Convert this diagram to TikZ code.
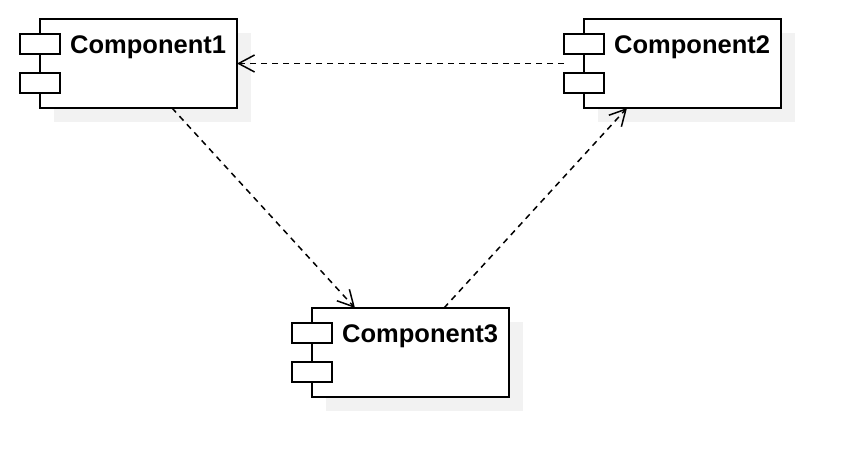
\documentclass[tikz,border=0pt]{standalone}
\usepackage{fontspec}
\newfontfamily\compfont{Liberation Sans}
\usetikzlibrary{arrows.meta}
\tikzset{
  compbox/.style={draw=black, line width=1.6pt, fill=white, minimum width=197pt, minimum height=89pt, inner sep=0pt, outer sep=0pt},
  compshadow/.style={fill=black!5, draw=none},
  portbox/.style={draw=black, line width=1.6pt, fill=white, minimum width=40pt, minimum height=20pt, inner sep=0pt, outer sep=0pt},
  complabel/.style={anchor=base west, inner sep=0pt, font=\compfont\bfseries\fontsize{25.5}{30}\selectfont},
  dep/.style={draw=black, line width=1.5pt, dash pattern=on 6pt off 5pt, -{Straight Barb[length=16pt,width=17pt,line width=1.5pt]}}
}
\newcommand{\mkcomp}[4]{%
  % #1 name, #2 left x, #3 top y, #4 label
  \fill[compshadow] (#2+14,#3+14) rectangle (#2+211,#3+103);
  \node[compbox, anchor=north west] (#1) at (#2,#3) {};
  \node[portbox, anchor=north west] (#1p1) at (#2-20,#3+15) {};
  \node[portbox, anchor=north west] (#1p2) at (#2-20,#3+54) {};
  \node[complabel] (#1t) at (#2+30,#3+34.5) {#4};
}
\begin{document}
\begin{tikzpicture}[x=1pt,y=-1pt]
  \useasboundingbox (0,0) rectangle (860,476);
  \mkcomp{c1}{40}{19}{Component1}
  \mkcomp{c2}{584}{19}{Component2}
  \mkcomp{c3}{312}{308}{Component3}
  \draw[dep] ([xshift=-20pt]c2.west) -- (c1.east);
  \draw[dep] ([xshift=33.5pt]c1.south) -- ([xshift=-55.5pt]c3.north);
  \draw[dep] ([xshift=33.5pt]c3.north) -- ([xshift=-55.5pt]c2.south);
\end{tikzpicture}
\end{document}
